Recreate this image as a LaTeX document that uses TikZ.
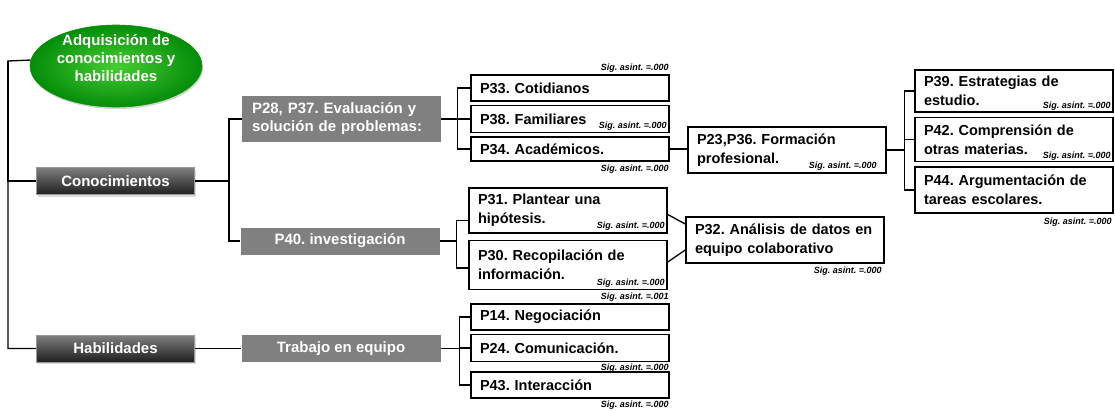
\documentclass[tikz,border=0pt]{standalone}
\usepackage{fontspec}
\setmainfont{Liberation Sans}
\frenchspacing
\usetikzlibrary{shapes.geometric, positioning, shadows}
\definecolor{goalin}{RGB}{70,205,50}
\definecolor{goalout}{RGB}{5,140,10}
\definecolor{catgray}{RGB}{128,128,128}

\begin{document}
\begin{tikzpicture}[
    x=1pt, y=-1pt,
    goal/.style={ellipse, inner color=goalin, outer color=goalout, draw=green!60!black, line width=0.6pt, minimum width=172pt, minimum height=82pt, drop shadow={opacity=0.35, shadow xshift=1pt, shadow yshift=-2pt}},
    goaltext/.style={text=white, align=center, font=\bfseries\fontsize{15}{18}\selectfont},
    dimbox/.style={rectangle, top color=black!50, middle color=black!72, bottom color=black!88, draw=black!40, line width=0.8pt, text=white, minimum width=158pt, minimum height=27pt, font=\bfseries\fontsize{15}{18}\selectfont, drop shadow={opacity=0.3, shadow xshift=1pt, shadow yshift=-2pt}},
    catbox/.style={rectangle, fill=catgray, text=white, minimum width=199pt, minimum height=27pt, font=\bfseries\fontsize{15}{18}\selectfont},
    qbox/.style={rectangle, draw, line width=1.5pt, fill=white, text width=180pt, inner xsep=9pt, inner ysep=2pt, align=left, font=\bfseries\fontsize{14.5}{19}\selectfont},
    sig/.style={inner sep=0pt, font=\bfseries\itshape\fontsize{9}{9}\selectfont},
    link/.style={line width=1.3pt}
]
\useasboundingbox (0,0) rectangle (1115,410);

% Root
\node[goal] (goal) at (116,66) {};
\node[goaltext] (goaltxt) at (116,58) {Adquisición de\\conocimientos y\\habilidades};
\node[dimbox] (conoc) at (115.5,181) {Conocimientos};
\node[dimbox] (habil) at (115.5,348.5) {Habilidades};

% Categories
\node[catbox, minimum height=46pt, text width=179pt, inner xsep=10pt, align=left] (p28) at (341.5,119) {P28, P37. Evaluación y\\solución de problemas:};
\node[catbox] (p40) at (340,241) {P40. investigación};
\node[catbox] (trabajo) at (341,348.5) {Trabajo en equipo};

% Evaluation items
\node[qbox, minimum height=26pt] (p33) at (570,88) {P33. Cotidianos};
\node[qbox, minimum height=27pt, below=3pt of p33] (p38) {P38. Familiares};
\node[qbox, minimum height=24pt, below=3pt of p38] (p34) {P34. Académicos.};
\node[qbox, minimum height=46pt] (p23) at (787,150) {P23,P36. Formación\\profesional.};
\node[qbox, minimum height=42pt] (p39) at (1014,91) {P39. Estrategias de\\estudio.};
\node[qbox, minimum height=44pt, below=4pt of p39] (p42) {P42. Comprensión de\\otras materias.};
\node[qbox, minimum height=46pt, below=4pt of p42] (p44) {P44. Argumentación de\\tareas escolares.};

% Investigation items
\node[qbox, minimum height=45pt] (p31) at (568,210.5) {P31. Plantear una\\hipótesis.};
\node[qbox, minimum height=49pt, below=6pt of p31] (p30) {P30. Recopilación de\\información.};
\node[qbox, minimum height=46pt] (p32) at (785,240) {P32. Análisis de datos en\\equipo colaborativo};

% Teamwork items
\node[qbox, minimum height=26pt] (p14) at (570,317) {P14. Negociación};
\node[qbox, minimum height=27pt, below=3pt of p14] (p24) {P24. Comunicación.};
\node[qbox, minimum height=26pt, below=9pt of p24] (p43) {P43. Interacción};

% Significance
\node[sig, above left=2pt and 1pt of p33.north east] (s33) {Sig. asint. =.000};
\node[sig, above left=3pt and 3pt of p38.south east] (s38) {Sig. asint. =.000};
\node[sig, below left=3pt and 1pt of p34.south east] (s34) {Sig. asint. =.000};
\node[sig, above left=3pt and 10pt of p23.south east] (s23) {Sig. asint. =.000};
\node[sig, above left=2pt and 3pt of p39.south east] (s39) {Sig. asint. =.000};
\node[sig, above left=2pt and 3pt of p42.south east] (s42) {Sig. asint. =.000};
\node[sig, below left=4pt and 2pt of p44.south east] (s44) {Sig. asint. =.000};
\node[sig, above left=3pt and 3pt of p31.south east] (s31) {Sig. asint. =.000};
\node[sig, above left=3pt and 3pt of p30.south east] (s30) {Sig. asint. =.000};
\node[sig, below left=3pt and 3pt of p32.south east] (s32) {Sig. asint. =.000};
\node[sig, above left=2pt and 1pt of p14.north east] (s14) {Sig. asint. =.001};
\node[sig, below left=1.5pt and 1pt of p24.south east] (s24) {Sig. asint. =.000};
\node[sig, below left=2pt and 1pt of p43.south east] (s43) {Sig. asint. =.000};

% Forks
\coordinate (root) at (8,61);
\coordinate (kfork) at (229,181);
\coordinate[right=16pt of p28.east] (efork);
\coordinate[right=17pt of p40.east] (ifork);
\coordinate[right=19pt of trabajo.east] (tfork);
\coordinate[right=18pt of p23.east] (ffork);

\draw[link] (goal.176) -- (root) |- (habil.west);
\draw[link] (root) |- (conoc.west);
\draw[link] (conoc.east) -- (kfork) |- (p28.west);
\draw[link] (kfork) |- (p40.west);
\draw[link] (habil.east) -- (trabajo.west);

\draw[link] (p28.east) -- (efork) |- (p33.west);
\draw[link] (efork) |- (p38.west);
\draw[link] (efork) |- (p34.west);
\draw[link] (p34.east) -- (p34.east -| p23.west);
\draw[link] (p23.east) -- (ffork) |- (p39.west);
\draw[link] (ffork) |- (p42.west);
\draw[link] (ffork) |- (p44.west);

\draw[link] (p40.east) -- (ifork) |- ([yshift=-10pt]p31.west);
\draw[link] (ifork) |- ([yshift=-3pt]p30.west);
\draw[link] ([yshift=-4pt]p31.east) -- ([yshift=16pt]p32.west);
\draw[link] ([yshift=3pt]p30.east) -- ([yshift=-10pt]p32.west);

\draw[link] (trabajo.east) -- (tfork) |- (p14.west);
\draw[link] (tfork) |- (p24.west);
\draw[link] (tfork) |- (p43.west);

\end{tikzpicture}
\end{document}
